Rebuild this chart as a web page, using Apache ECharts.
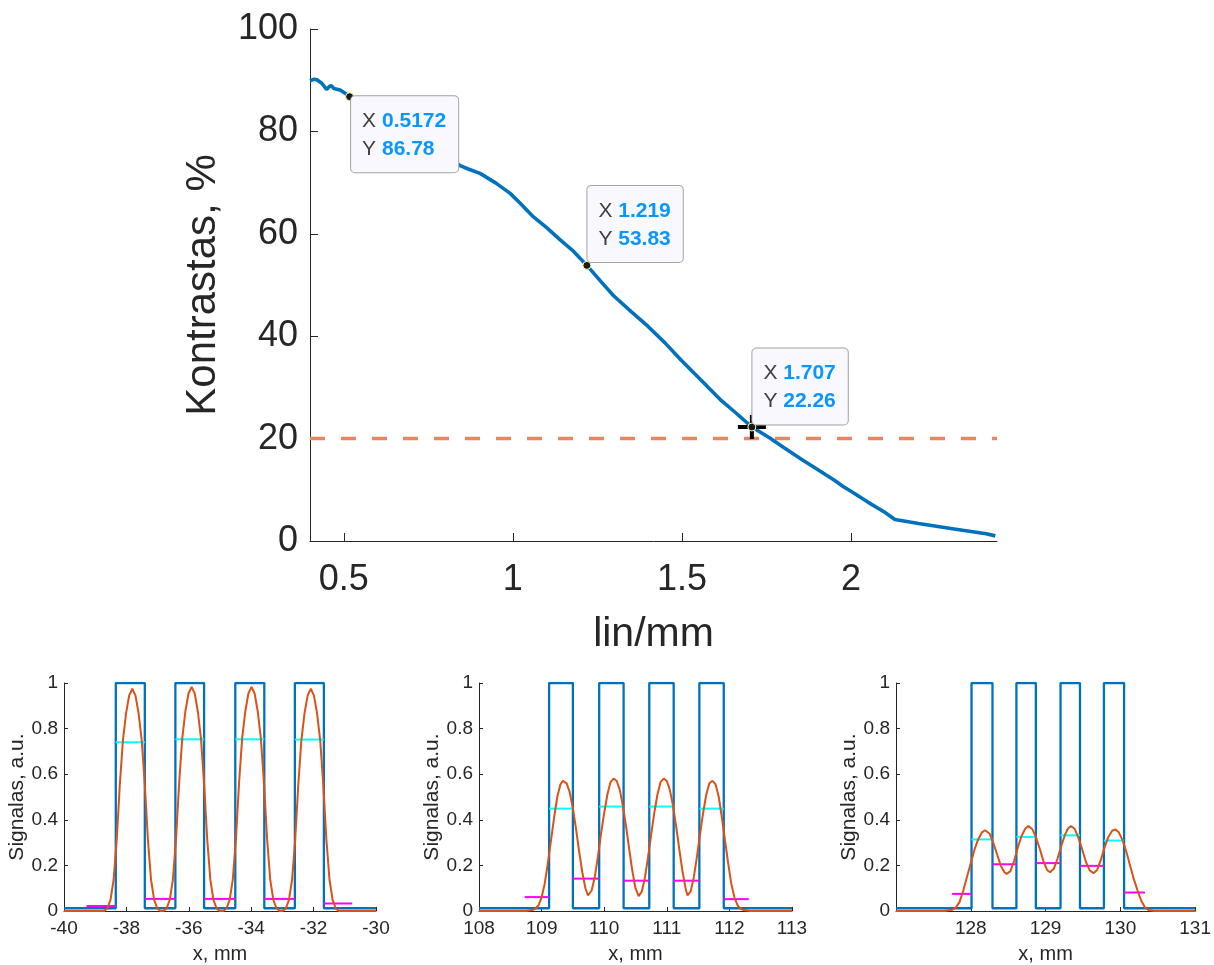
<!DOCTYPE html>
<html>
<head>
<meta charset="utf-8">
<script src="https://cdn.jsdelivr.net/npm/echarts@6/dist/echarts.min.js"></script>
<style>
  html, body { margin: 0; padding: 0; background: #ffffff; }
  #chart { width: 1214px; height: 965px; }
</style>
</head>
<body>
<div id="chart"></div>
<script>
// ---- Contrast transfer curve (Kontrastas vs spatial frequency) ----
const contrastX = [0.400, 0.412, 0.420, 0.435, 0.449, 0.458, 0.464, 0.470, 0.489, 0.505, 0.5172,
  0.600, 0.700, 0.800, 0.844, 0.870, 0.903, 0.950, 0.992, 1.021, 1.061, 1.100, 1.140, 1.179, 1.219,
  1.260, 1.298, 1.350, 1.400, 1.450, 1.498, 1.560, 1.617, 1.660, 1.707, 1.760, 1.800, 1.850, 1.900,
  1.950, 1.978, 2.000, 2.050, 2.100, 2.130, 2.200, 2.300, 2.400, 2.427];
const contrastY = [89.9, 90.2, 90.1, 89.4, 88.2, 88.8, 88.9, 88.4, 88.1, 87.4, 86.78,
  84.0, 80.3, 75.6, 73.3, 72.6, 71.8, 69.9, 67.9, 66.0, 63.3, 61.2, 58.8, 56.6, 53.83,
  50.7, 47.9, 44.8, 41.9, 38.7, 35.3, 31.2, 27.4, 25.0, 22.26, 20.1, 18.3, 16.1, 14.0,
  11.9, 10.6, 9.7, 7.6, 5.6, 4.2, 3.4, 2.4, 1.4, 1.0];
const thresholdX = [0.4, 2.432];
const thresholdY = 20;
const tipX = [0.5172, 1.219, 1.707];
const tipY = [86.78, 53.83, 22.26];
const mainXTicks = [0.5, 1, 1.5, 2];

// ---- Panel 1: 0.5172 lin/mm target ----
const s1Rise = [-38.34, -36.43, -34.51, -32.60];
const s1Fall = [-37.41, -35.51, -33.58, -31.67];
const s1Cyan = [0.740, 0.753, 0.753, 0.752];
const s1Magenta = [0.022, 0.053, 0.053, 0.053, 0.033];
const s1MagentaEnds = [-39.28, -30.76];
const s1FitX = [-40, -38.71, -38.61, -38.51, -38.41, -38.31, -38.21, -38.11, -38.01, -37.91, -37.81, -37.71, -37.61, -37.51, -37.41, -37.31, -37.21, -37.11, -37.01, -36.91,
  -36.81, -36.71, -36.61, -36.51, -36.41, -36.31, -36.21, -36.11, -36.01, -35.91, -35.81, -35.71, -35.61, -35.51, -35.41, -35.31, -35.21, -35.11, -35.01,
  -34.89, -34.79, -34.69, -34.59, -34.49, -34.39, -34.29, -34.19, -34.09, -33.99, -33.89, -33.79, -33.69, -33.59, -33.49, -33.39, -33.29, -33.19, -33.09,
  -32.99, -32.89, -32.79, -32.69, -32.59, -32.49, -32.39, -32.29, -32.19, -32.09, -31.99, -31.89, -31.79, -31.69, -31.59, -31.49, -31.39, -31.29, -31.19, -30];
const s1FitY = [0, 0, 0.012, 0.049, 0.137, 0.312, 0.556, 0.751, 0.868, 0.946, 0.975, 0.946, 0.868, 0.751, 0.556, 0.312, 0.137, 0.049, 0.012, 0,
  0, 0.012, 0.049, 0.138, 0.315, 0.560, 0.757, 0.875, 0.954, 0.983, 0.954, 0.875, 0.757, 0.560, 0.315, 0.138, 0.049, 0.012, 0,
  0, 0.012, 0.049, 0.138, 0.315, 0.560, 0.757, 0.875, 0.954, 0.983, 0.954, 0.875, 0.757, 0.560, 0.315, 0.138, 0.049, 0.012, 0,
  0, 0.012, 0.049, 0.137, 0.312, 0.556, 0.751, 0.868, 0.946, 0.975, 0.946, 0.868, 0.751, 0.556, 0.312, 0.137, 0.049, 0.012, 0, 0];

// ---- Panel 2: 1.219 lin/mm target ----
const s2Rise = [109.12, 109.92, 110.72, 111.52];
const s2Fall = [109.50, 110.31, 111.11, 111.91];
const s2Cyan = [0.449, 0.458, 0.458, 0.449];
const s2Magenta = [0.061, 0.142, 0.133, 0.133, 0.052];
const s2MagentaEnds = [108.73, 112.31];
const s2FitX = [108, 108.75, 108.85, 108.90, 108.95, 109.00, 109.05, 109.10, 109.15, 109.20, 109.25, 109.30, 109.34, 109.40, 109.45, 109.50,
  109.55, 109.60, 109.65, 109.70, 109.74, 109.80, 109.85, 109.90, 109.95, 110.00, 110.05, 110.10, 110.15, 110.20, 110.25, 110.30,
  110.35, 110.40, 110.45, 110.50, 110.55, 110.60, 110.65, 110.70, 110.75, 110.80, 110.85, 110.90, 110.95, 111.00, 111.05, 111.10,
  111.15, 111.20, 111.25, 111.30, 111.33, 111.38, 111.43, 111.48, 111.53, 111.58, 111.63, 111.68, 111.73, 111.78, 111.83, 111.88,
  111.93, 111.98, 112.03, 112.08, 112.13, 112.18, 112.23, 112.33, 113];
const s2FitY = [0, 0, 0.004, 0.010, 0.025, 0.060, 0.120, 0.210, 0.310, 0.410, 0.500, 0.555, 0.571, 0.560, 0.520, 0.450,
  0.360, 0.260, 0.170, 0.100, 0.068, 0.090, 0.150, 0.240, 0.340, 0.430, 0.510, 0.565, 0.581, 0.570, 0.530, 0.460,
  0.370, 0.270, 0.175, 0.100, 0.065, 0.085, 0.145, 0.235, 0.335, 0.430, 0.510, 0.565, 0.581, 0.570, 0.530, 0.460,
  0.370, 0.270, 0.175, 0.100, 0.068, 0.085, 0.145, 0.235, 0.335, 0.430, 0.510, 0.560, 0.571, 0.555, 0.500, 0.410,
  0.310, 0.210, 0.120, 0.060, 0.025, 0.010, 0.004, 0, 0];

// ---- Panel 3: 1.707 lin/mm target ----
const s3Rise = [128.01, 128.61, 129.20, 129.78];
const s3Fall = [128.29, 128.87, 129.46, 130.05];
const s3Cyan = [0.314, 0.325, 0.332, 0.309];
const s3Magenta = [0.075, 0.205, 0.210, 0.198, 0.081];
const s3MagentaEnds = [127.75, 130.33];
const s3FitX = [127, 127.65, 127.75, 127.80, 127.85, 127.90, 127.95, 128.00, 128.05, 128.10, 128.15, 128.19, 128.25, 128.30, 128.35, 128.40,
  128.45, 128.48, 128.53, 128.58, 128.63, 128.68, 128.73, 128.77, 128.82, 128.87, 128.92, 128.97, 129.02, 129.06, 129.11, 129.16,
  129.21, 129.26, 129.30, 129.34, 129.39, 129.44, 129.49, 129.54, 129.59, 129.64, 129.69, 129.74, 129.79, 129.84, 129.89, 129.93,
  129.98, 130.03, 130.08, 130.13, 130.18, 130.23, 130.28, 130.33, 130.38, 130.45, 131];
const s3FitY = [0, 0, 0.005, 0.015, 0.040, 0.090, 0.150, 0.210, 0.270, 0.315, 0.345, 0.354, 0.340, 0.300, 0.250, 0.200,
  0.170, 0.163, 0.175, 0.220, 0.280, 0.330, 0.362, 0.373, 0.360, 0.325, 0.275, 0.220, 0.180, 0.170, 0.185, 0.230,
  0.285, 0.335, 0.362, 0.373, 0.360, 0.320, 0.270, 0.215, 0.178, 0.166, 0.180, 0.225, 0.280, 0.325, 0.352, 0.358,
  0.345, 0.310, 0.260, 0.200, 0.140, 0.090, 0.045, 0.015, 0.004, 0, 0];

const barLow = 0.012;
const barHigh = 1;

// ---- styling ----
const FONT = '"Liberation Sans", Arial, Helvetica, sans-serif';
const INK = '#262626';
const BLUE = '#0072BD';
const ORANGE = '#D95319';

const zip = (xs, ys) => xs.map((x, i) => [x, ys[i]]);

function stepTrace(rise, fall, xmin, xmax) {
  const pts = [[xmin, barLow]];
  rise.forEach((r, i) => {
    pts.push([r, barLow], [r, barHigh], [fall[i], barHigh], [fall[i], barLow]);
  });
  pts.push([xmax, barLow]);
  return pts;
}

function levelSegments(rise, fall, cyan, magenta, magEnds, idx) {
  const out = [];
  const seg = (pts, color) => out.push({
    type: 'line', xAxisIndex: idx, yAxisIndex: idx, data: pts, symbol: 'none',
    lineStyle: { color: color, width: 2 }, z: 4, silent: true, animation: false
  });
  rise.forEach((r, i) => seg([[r, cyan[i]], [fall[i], cyan[i]]], '#00FFFF'));
  const starts = [magEnds[0]].concat(fall);
  const ends = rise.concat([magEnds[1]]);
  starts.forEach((s, i) => seg([[s, magenta[i]], [ends[i], magenta[i]]], '#FF00FF'));
  return out;
}

function subXAxis(idx, min, max, interval, ticks) {
  const ax = {
    gridIndex: idx, type: 'value', min: min, max: max, interval: interval,
    axisLine: { show: true, onZero: false, lineStyle: { color: INK, width: 1 } },
    axisTick: { show: true, inside: true, length: 4, lineStyle: { color: INK } },
    axisLabel: { fontSize: 19, color: INK, margin: 8, fontFamily: FONT },
    splitLine: { show: false },
    name: 'x, mm', nameLocation: 'middle', nameGap: 33,
    nameTextStyle: { fontSize: 20, color: INK, fontFamily: FONT }
  };
  if (ticks) {
    ax.axisTick.customValues = ticks;
    ax.axisLabel.customValues = ticks;
  }
  return ax;
}

function subYAxis(idx) {
  return {
    gridIndex: idx, type: 'value', min: 0, max: 1, interval: 0.2,
    axisLine: { show: true, onZero: false, lineStyle: { color: INK, width: 1 } },
    axisTick: { show: true, inside: true, length: 4, lineStyle: { color: INK } },
    axisLabel: { fontSize: 19, color: INK, margin: 6, fontFamily: FONT },
    splitLine: { show: false },
    name: 'Signalas, a.u.', nameLocation: 'middle', nameGap: 36, nameRotate: 90,
    nameTextStyle: { fontSize: 21, color: INK, fontFamily: FONT }
  };
}

function subSeries(idx, rise, fall, cyan, magenta, magEnds, fitX, fitY, xmin, xmax) {
  return [
    {
      type: 'line', xAxisIndex: idx, yAxisIndex: idx, data: stepTrace(rise, fall, xmin, xmax),
      symbol: 'none', lineStyle: { color: BLUE, width: 2.3 }, z: 3, silent: true, animation: false
    },
    ...levelSegments(rise, fall, cyan, magenta, magEnds, idx),
    {
      type: 'line', xAxisIndex: idx, yAxisIndex: idx, data: zip(fitX, fitY),
      symbol: 'none', lineStyle: { color: ORANGE, width: 2 }, z: 5, silent: true, animation: false
    }
  ];
}

const tipLabel = (i, pos, vAlign) => ({
  show: true,
  position: pos,
  align: 'left',
  verticalAlign: vAlign,
  opacity: 1,
  fontSize: 21,
  fontFamily: FONT,
  formatter: '{k|X} {v|' + tipX[i] + '}\n{k|Y} {v|' + tipY[i] + '}',
  backgroundColor: '#F8F8FE',
  borderColor: '#A3A3A3',
  borderWidth: 1,
  borderRadius: 4,
  padding: [11, 12, 9, 11],
  rich: {
    k: { fontSize: 21, lineHeight: 28, color: '#404040', fontFamily: FONT },
    v: { fontSize: 21, lineHeight: 28, color: '#0A96FF', fontWeight: 'bold', fontFamily: FONT }
  }
});

const chart = echarts.init(document.getElementById('chart'), null, { renderer: 'canvas' });

chart.setOption({
  backgroundColor: '#ffffff',
  animation: false,
  grid: [
    { left: 310, top: 29, width: 687, height: 512 },
    { left: 64, top: 683, width: 312, height: 230 },
    { left: 479, top: 683, width: 313, height: 230 },
    { left: 896, top: 683, width: 312, height: 230 }
  ],
  xAxis: [
    {
      gridIndex: 0, type: 'value', min: 0.4, max: 2.432,
      axisLine: { show: true, onZero: false, lineStyle: { color: INK, width: 1 } },
      axisTick: { show: true, inside: true, length: 8, customValues: mainXTicks, lineStyle: { color: INK } },
      axisLabel: { customValues: mainXTicks, fontSize: 36, color: INK, margin: 21, fontFamily: FONT },
      splitLine: { show: false },
      name: 'lin/mm', nameLocation: 'middle', nameGap: 73,
      nameTextStyle: { fontSize: 41, color: INK, fontFamily: FONT }
    },
    subXAxis(1, -40, -30, 2),
    subXAxis(2, 108, 113, 1),
    subXAxis(3, 127, 131, 1, [128, 129, 130, 131])
  ],
  yAxis: [
    {
      gridIndex: 0, type: 'value', min: 0, max: 100, interval: 20,
      axisLine: { show: true, onZero: false, lineStyle: { color: INK, width: 1 } },
      axisTick: { show: true, inside: true, length: 8, lineStyle: { color: INK } },
      axisLabel: { fontSize: 36, color: INK, margin: 12, fontFamily: FONT },
      splitLine: { show: false },
      name: 'Kontrastas, %', nameLocation: 'middle', nameGap: 86, nameRotate: 90,
      nameTextStyle: { fontSize: 42, color: INK, fontFamily: FONT }
    },
    subYAxis(1),
    subYAxis(2),
    subYAxis(3)
  ],
  series: [
    {
      type: 'line', xAxisIndex: 0, yAxisIndex: 0,
      data: thresholdX.map(x => [x, thresholdY]),
      symbol: 'none', lineStyle: { color: '#E6875F', width: 3.5, type: [15, 16] },
      z: 2, silent: true
    },
    {
      type: 'line', xAxisIndex: 0, yAxisIndex: 0, data: zip(contrastX, contrastY),
      symbol: 'none', lineStyle: { color: BLUE, width: 3.6 }, z: 3, silent: true
    },
    {
      type: 'scatter', xAxisIndex: 0, yAxisIndex: 0,
      data: [[tipX[2], tipY[2]]],
      symbol: 'path://M-14,-2H-4V2H-14Z M4,-2H14V2H4Z M-2,-12H2V-4H-2Z M-2,4H2V12H-2Z',
      symbolSize: [28, 24], itemStyle: { color: '#000000', opacity: 1 }, z: 6, silent: true
    },
    {
      type: 'scatter', xAxisIndex: 0, yAxisIndex: 0, zlevel: 1,
      data: [
        { value: [tipX[0], tipY[0]], label: tipLabel(0, [6, 4], 'top') },
        { value: [tipX[1], tipY[1]], label: tipLabel(1, [5, 1], 'bottom') },
        { value: [tipX[2], tipY[2]], label: tipLabel(2, [5, 2], 'bottom') }
      ],
      symbol: 'circle', symbolSize: 8,
      itemStyle: { color: '#1a1a1a', borderColor: '#FFFFB0', borderWidth: 1, opacity: 1 },
      z: 8, silent: true
    },
    ...subSeries(1, s1Rise, s1Fall, s1Cyan, s1Magenta, s1MagentaEnds, s1FitX, s1FitY, -40, -30),
    ...subSeries(2, s2Rise, s2Fall, s2Cyan, s2Magenta, s2MagentaEnds, s2FitX, s2FitY, 108, 113),
    ...subSeries(3, s3Rise, s3Fall, s3Cyan, s3Magenta, s3MagentaEnds, s3FitX, s3FitY, 127, 131)
  ]
});
</script>
</body>
</html>
